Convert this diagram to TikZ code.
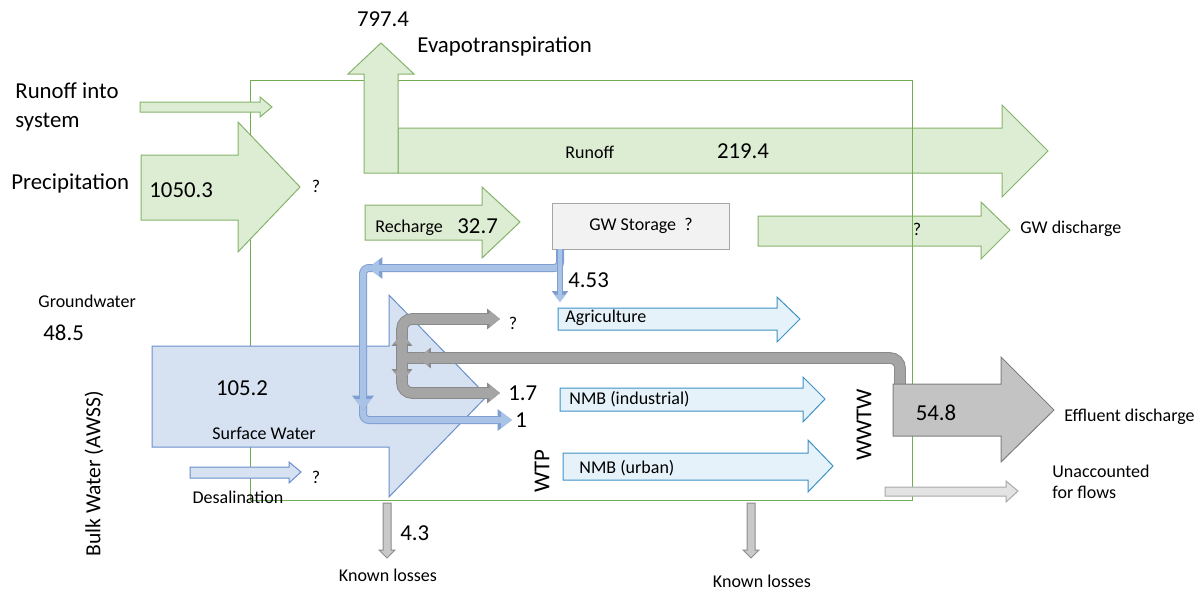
\documentclass[tikz,border=0pt]{standalone}
\usepackage{fontspec}
\setmainfont{Carlito}
\usetikzlibrary{arrows.meta}

\definecolor{greenfill}{HTML}{DDEDD3}
\definecolor{greenedge}{HTML}{86B36C}
\definecolor{boxgreen}{HTML}{72AD50}
\definecolor{swfill}{HTML}{D6E1F2}
\definecolor{swedge}{HTML}{6A8FCB}
\definecolor{usefill}{HTML}{E6F2FA}
\definecolor{useedge}{HTML}{3D92C7}
\definecolor{pipefill}{HTML}{A9C3E6}
\definecolor{pipeedge}{HTML}{7F9ED1}
\definecolor{gpipefill}{HTML}{A5A5A5}
\definecolor{gpipeedge}{HTML}{8A8A8A}
\definecolor{effill}{HTML}{C3C3C3}
\definecolor{efedge}{HTML}{7F7F7F}
\definecolor{lossfill}{HTML}{C9C9C9}
\definecolor{lossedge}{HTML}{8C8C8C}
\definecolor{unfill}{HTML}{E3E3E3}
\definecolor{unedge}{HTML}{A9A9A9}
\definecolor{storefill}{HTML}{F2F2F2}
\definecolor{storeedge}{HTML}{A6A6A6}

\tikzset{
  bignum/.style={font=\fontsize{11.4}{14.5}\selectfont, inner sep=0pt},
  smalltxt/.style={font=\fontsize{9}{10.5}\selectfont, inner sep=0pt},
  greenarrow/.style={draw=greenedge, fill=greenfill, line width=0.5pt},
  swarrow/.style={draw=swedge, fill=swfill, line width=0.5pt},
  usearrow/.style={draw=useedge, fill=usefill, line width=0.5pt},
  effarrow/.style={draw=efedge, fill=effill, line width=0.5pt},
  lossarrow/.style={draw=lossedge, fill=lossfill, line width=0.5pt},
  unarrow/.style={draw=unedge, fill=unfill, line width=0.5pt},
  boxline/.style={draw=boxgreen, line width=0.5pt},
  gwbox/.style={draw=storeedge, fill=storefill, line width=0.5pt, minimum width=88.5pt, minimum height=23pt, font=\fontsize{9}{10.5}\selectfont},
  bpipe/.style={draw=pipefill, line width=3pt, rounded corners=3pt, preaction={draw=pipeedge, line width=4pt}},
  thinpipe/.style={draw=pipefill, line width=2pt, preaction={draw=pipeedge, line width=3pt}},
  gpipe/.style={draw=gpipefill, line width=4.8pt, rounded corners=5pt, preaction={draw=gpipeedge, line width=5.8pt}},
  ptip/.style={-{Triangle[length=0pt 1.8, width=0pt 2.6]}},
  gtip/.style={-{Triangle[length=0pt 1.1, width=0pt 1.7]}}
}

\begin{document}
\begin{tikzpicture}[x=0.5pt, y=-0.5pt]
  \useasboundingbox (0,0) rectangle (1199,589);

  % flows leaving through the right side
  \draw[greenarrow] (398,128) -- (1002,128) -- (1002,105) -- (1048,151) -- (1002,197) -- (1002,173) -- (398,173) -- cycle;
  \draw[greenarrow] (758,216) -- (981,216) -- (981,202) -- (1010,230) -- (981,259) -- (981,246) -- (758,246) -- cycle;

  % system boundary
  \draw[boxline] (250,80) rectangle (912,500);

  % green inflows and evapotranspiration
  \draw[greenarrow] (364,173) -- (364,74) -- (348,74) -- (381,43) -- (414,74) -- (398,74) -- (398,173) -- cycle;
  \draw[greenarrow] (141,155) -- (238,155) -- (238,122) -- (300,187) -- (238,252) -- (238,220) -- (141,220) -- cycle;
  \draw[greenarrow] (140,102) -- (260,102) -- (260,97) -- (272,107) -- (260,117) -- (260,112) -- (140,112) -- cycle;
  \draw[greenarrow] (365,205) -- (482,205) -- (482,187) -- (520,222) -- (482,258) -- (482,240) -- (365,240) -- cycle;

  \node[gwbox] (gws) at (641,226) {GW Storage~~?};

  % bulk water
  \draw[swarrow] (152,346) -- (389,346) -- (389,295) -- (487,396) -- (389,497) -- (389,447) -- (152,447) -- cycle;
  \draw[swarrow] (190,467) -- (289,467) -- (289,462) -- (301,472) -- (289,483) -- (289,478) -- (190,478) -- cycle;

  % water users
  \draw[usearrow] (558,308) -- (777,308) -- (777,297) -- (800,319) -- (777,342) -- (777,330) -- (558,330) -- cycle;
  \draw[usearrow] (560,388) -- (803,388) -- (803,377) -- (825,399) -- (803,422) -- (803,411) -- (560,411) -- cycle;
  \draw[usearrow] (563,453) -- (808,453) -- (808,440) -- (833,466) -- (808,492) -- (808,480) -- (563,480) -- cycle;

  % groundwater abstraction pipes
  \draw[bpipe, ptip] (363,400) |- (512,420);
  \draw[bpipe, ptip] (375,268) -| (363,410);
  \draw[bpipe, ptip] (560,249) |- (368,268);
  \draw[thinpipe, ptip] (560,249) -- (560,302);

  % return flow pipes
  \draw[gpipe, gtip] (402,358) |- (500,319);
  \draw[gpipe, gtip] (402,358) |- (500,393);
  \draw[gpipe] (900,384) |- (407,358);
  \draw[gpipe, gtip] (436,358) -- (418,358);
  \draw[gpipe, gtip] (402,350) -- (402,333);
  \draw[gpipe, gtip] (402,366) -- (402,382);

  % outflows
  \draw[effarrow] (893,384) -- (1001,384) -- (1001,357) -- (1054,410) -- (1001,462) -- (1001,436) -- (893,436) -- cycle;
  \draw[unarrow] (885,487) -- (1006,487) -- (1006,481) -- (1018,491) -- (1006,502) -- (1006,496) -- (885,496) -- cycle;
  \draw[lossarrow] (383,503) -- (391,503) -- (391,550) -- (395,550) -- (387,558) -- (379,550) -- (383,550) -- cycle;
  \draw[lossarrow] (747,503) -- (755,503) -- (755,550) -- (759,550) -- (751,558) -- (743,550) -- (747,550) -- cycle;

  % labels
  \node[bignum] (evnum) at (383,19) {797.4};
  \node[bignum, anchor=west] (evlab) at (417,46) {Evapotranspiration};
  \node[bignum, anchor=west, align=left] (rinlab) at (15,107) {Runoff into\\system};
  \node[bignum, anchor=west] (prlab) at (11,183) {Precipitation};
  \node[bignum, anchor=west] (prnum) at (149,190) {1050.3};
  \node[smalltxt] (prq) at (316,186) {?};
  \node[smalltxt, anchor=west] (rolab) at (565,152) {Runoff};
  \node[bignum] (ronum) at (743,151) {219.4};
  \node[smalltxt, anchor=west] (relab) at (375,228) {Recharge};
  \node[bignum, anchor=west] (renum) at (457,226) {32.7};
  \node[smalltxt] (gdq) at (917,229) {?};
  \node[smalltxt, anchor=west] (gdlab) at (1020,229) {GW discharge};
  \node[smalltxt, anchor=west] (gwlab) at (38,301) {Groundwater};
  \node[bignum, anchor=west] (gwnum) at (43,333) {48.5};
  \node[bignum, rotate=90, font=\fontsize{10.8}{13}\selectfont] (bulk) at (94,474) {Bulk Water (AWSS)};
  \node[bignum] (swnum) at (242,388) {105.2};
  \node[smalltxt] (swlab) at (264,433) {Surface Water};
  \node[smalltxt] (deq) at (316,477) {?};
  \node[smalltxt] (delab) at (238,497) {Desalination};
  \node[bignum, anchor=west] (agnum) at (568,280) {4.53};
  \node[smalltxt, anchor=west] (aglab) at (565,318) {Agriculture};
  \node[smalltxt] (reuq) at (513,323) {?};
  \node[bignum, anchor=west] (renum2) at (508,393) {1.7};
  \node[bignum, anchor=west] (gwone) at (515,420) {1};
  \node[smalltxt, anchor=west] (indlab) at (569,399) {NMB (industrial)};
  \node[smalltxt, anchor=west] (urblab) at (579,468) {NMB (urban)};
  \node[bignum, rotate=90] (wtp) at (542,471) {WTP};
  \node[bignum, rotate=90] (wwtw) at (864,425) {WWTW};
  \node[bignum] (efnum) at (936,413) {54.8};
  \node[smalltxt, anchor=west] (eflab) at (1064,417) {Effluent discharge};
  \node[smalltxt, anchor=west, align=left] (unlab) at (1052,482) {Unaccounted\\for flows};
  \node[bignum, anchor=west] (klnum) at (400,533) {4.3};
  \node[smalltxt] (kl1) at (388,575) {Known losses};
  \node[smalltxt] (kl2) at (762,581) {Known losses};
\end{tikzpicture}
\end{document}
